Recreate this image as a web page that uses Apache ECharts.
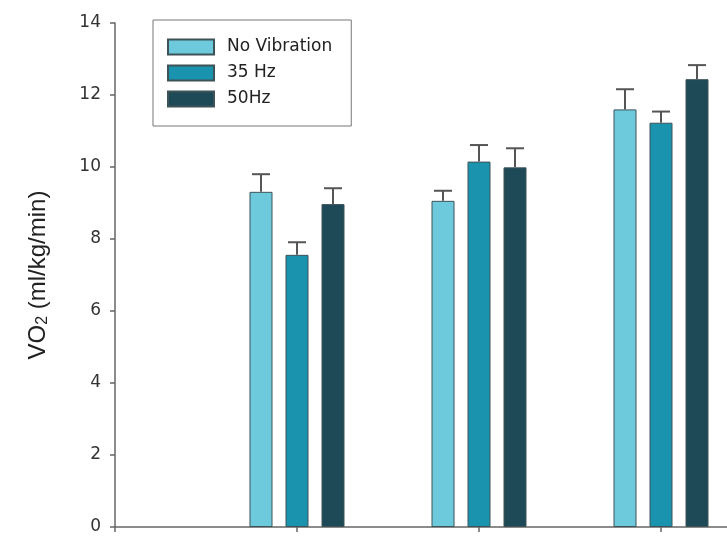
<!DOCTYPE html>
<html>
<head>
<meta charset="utf-8">
<script src="https://cdn.jsdelivr.net/npm/echarts@6/dist/echarts.min.js"></script>
<style>html,body{margin:0;padding:0;background:#fff}#c{width:727px;height:539px}</style>
</head>
<body>
<div id="c"></div>
<script>
// Data
const categories = ['', 'Condition A', 'Condition B', 'Condition C', ''];
const seriesNames = ['No Vibration', '35 Hz', '50Hz'];
const noVibration = [null, 9.31, 9.06, 11.60, null];
const hz35 = [null, 7.56, 10.15, 11.23, null];
const hz50 = [null, 8.97, 9.99, 12.44, null];
const errNoVibration = [null, 0.49, 0.28, 0.56, null];
const err35 = [null, 0.35, 0.46, 0.31, null];
const err50 = [null, 0.44, 0.53, 0.39, null];
const yTicks = [0, 2, 4, 6, 8, 10, 12, 14];

const colors = ['#6ccadc', '#1a93ae', '#1e4a57'];
const BAR_W = 23;
const BAR_GAP = 13 / 23;
const STEP = BAR_W * (1 + BAR_GAP);
const FONT = 'DejaVu Sans';

const values = [noVibration, hz35, hz50];
const errs = [errNoVibration, err35, err50];

const chart = echarts.init(document.getElementById('c'), null, {renderer: 'canvas'});

const series = [];
values.forEach((v, i) => {
  series.push({
    name: seriesNames[i],
    type: 'bar',
    data: v,
    barWidth: BAR_W,
    barGap: (BAR_GAP * 100) + '%',
    itemStyle: {color: colors[i], borderColor: '#3e5358', borderWidth: 1},
    z: 2
  });
});
values.forEach((v, i) => {
  const data = [];
  v.forEach((val, k) => { if (val != null) data.push([k, val, errs[i][k]]); });
  const off = (i - 1) * STEP;
  series.push({
    type: 'custom',
    name: 'err' + i,
    data: data,
    z: 3,
    silent: true,
    encode: {x: 0, y: 1},
    renderItem: function (params, api) {
      const c = api.value(0), val = api.value(1), e = api.value(2);
      const p0 = api.coord([c, val]);
      const p1 = api.coord([c, val + e]);
      const x = p0[0] + off;
      const half = 9;
      return {
        type: 'group',
        children: [
          {type: 'line', shape: {x1: x, y1: p0[1], x2: x, y2: p1[1]}, style: {stroke: '#555', lineWidth: 2}},
          {type: 'line', shape: {x1: x - half, y1: p1[1], x2: x + half, y2: p1[1]}, style: {stroke: '#555', lineWidth: 2}}
        ]
      };
    }
  });
});

chart.setOption({
  animation: false,
  backgroundColor: '#fff',
  grid: {left: 115, top: 23, right: -116, bottom: 12, containLabel: false, outerBoundsMode: 'none'},
  legend: {
    data: seriesNames,
    orient: 'vertical',
    left: 153,
    top: 20,
    icon: 'rect',
    itemWidth: 46,
    itemHeight: 15,
    itemGap: 6,
    padding: [17, 19, 17, 14],
    borderColor: '#777',
    borderWidth: 1,
    backgroundColor: '#fff',
    textStyle: {fontFamily: FONT, fontSize: 17, color: '#222', lineHeight: 20, padding: [0, 0, 0, 8]}
  },
  xAxis: {
    type: 'category',
    data: categories,
    boundaryGap: false,
    axisLine: {lineStyle: {color: '#666', width: 1.5}},
    axisTick: {show: true, length: 5, lineStyle: {color: '#666', width: 1.5}},
    axisLabel: {show: false},
    splitLine: {show: false}
  },
  yAxis: {
    type: 'value',
    min: yTicks[0],
    max: yTicks[yTicks.length - 1],
    interval: 2,
    name: '{a|VO}{b|2}{a| (ml/kg/min)}',
    nameLocation: 'middle',
    nameGap: 64,
    nameTextStyle: {
      rich: {
        a: {fontFamily: 'Liberation Sans', fontSize: 24, color: '#222'},
        b: {fontFamily: 'Liberation Sans', fontSize: 16, color: '#222', padding: [10, 0, 0, 0]}
      }
    },
    axisLine: {show: true, lineStyle: {color: '#666', width: 1.5}},
    axisTick: {show: true, length: 5, lineStyle: {color: '#666', width: 1.5}},
    axisLabel: {fontFamily: FONT, fontSize: 17, color: '#333', margin: 14},
    splitLine: {show: false}
  },
  series: series
});
</script>
</body>
</html>
